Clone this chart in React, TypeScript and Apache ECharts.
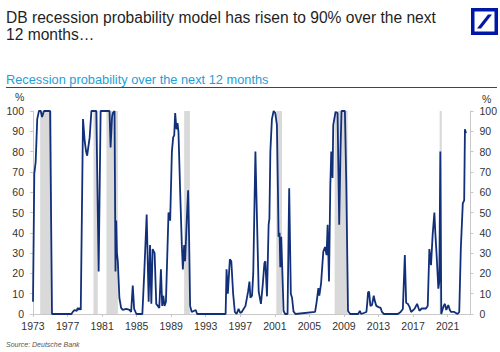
import React, { useEffect, useRef } from "react";
import * as echarts from "echarts";

const titleLines = ["DB recession probability model has risen to 90% over the next", "12 months…"];
const subtitle = "Recession probability over the next 12 months";
const sourceText = "Source: Deutsche Bank";

const xMin = 1973;
const xMax = 2023.65;
const xStep = 4;
const yMin = 0;
const yMax = 100;
const yStep = 10;

const recessions: [number, number][] = [
  [1973.83, 1975.17],
  [1980.0, 1980.5],
  [1981.5, 1982.83],
  [1990.5, 1991.17],
  [2001.17, 2001.83],
  [2007.92, 2009.42],
  [2020.08, 2020.33],
];

const probability: [number, number][] = [
  [1973.0, 6], [1973.15, 69], [1973.31, 75], [1973.49, 96], [1973.69, 100], [1973.9, 100],
  [1974.05, 97], [1974.27, 100], [1974.98, 100], [1975.2, 0], [1977.45, 0], [1977.6, 1],
  [1977.83, 2], [1978.06, 1.5], [1978.18, 3], [1978.29, 2], [1978.41, 3], [1978.53, 2],
  [1978.79, 96], [1978.99, 85], [1979.15, 80], [1979.27, 78], [1979.56, 87], [1979.76, 100],
  [1980.33, 100], [1980.6, 21], [1980.83, 100], [1981.86, 100], [1981.98, 82], [1982.15, 97],
  [1982.24, 99], [1982.44, 100], [1982.55, 21], [1982.63, 46], [1982.72, 30], [1982.82, 26],
  [1982.9, 18], [1983.0, 8], [1983.2, 3], [1983.39, 2], [1983.79, 2.5], [1984.17, 2],
  [1984.36, 1], [1984.55, 14], [1984.71, 2.5], [1984.97, 0], [1985.66, 0], [1985.89, 21],
  [1986.16, 49], [1986.39, 6], [1986.55, 34], [1986.7, 5], [1986.85, 32], [1987.08, 30],
  [1987.27, 5], [1987.45, 4], [1987.62, 3], [1987.81, 22], [1987.96, 4], [1988.08, 9],
  [1988.23, 4], [1988.39, 6], [1988.69, 50], [1988.88, 46], [1989.08, 80], [1989.23, 87],
  [1989.35, 88], [1989.46, 99], [1989.61, 91], [1989.73, 94], [1989.84, 90], [1990.04, 60],
  [1990.23, 34], [1990.35, 22], [1990.5, 34], [1990.61, 26], [1990.81, 47], [1990.96, 61],
  [1991.07, 38], [1991.19, 4], [1991.38, 1], [1991.84, 2], [1992.0, 0], [1995.3, 0],
  [1995.41, 22], [1995.56, 10], [1995.79, 27], [1995.96, 26], [1996.17, 10], [1996.37, 1],
  [1996.57, 0], [1996.8, 2.5], [1997.0, 0.5], [1997.17, 1], [1997.6, 4], [1997.9, 11],
  [1998.06, 16], [1998.17, 8], [1998.36, 9], [1998.5, 20], [1998.75, 80], [1998.93, 47],
  [1999.13, 11], [1999.39, 5], [1999.59, 14], [1999.79, 25], [1999.9, 26], [2000.09, 8.7],
  [2000.28, 44], [2000.37, 47], [2000.48, 80], [2000.66, 96], [2000.86, 100], [2001.05, 99],
  [2001.24, 93], [2001.35, 63], [2001.43, 38], [2001.55, 40], [2001.63, 23], [2001.74, 38],
  [2001.86, 22], [2002.01, 1.5], [2002.2, 0], [2002.47, 0], [2002.66, 62], [2002.85, 10],
  [2002.99, 8], [2003.16, 1.3], [2003.39, 0], [2005.66, 1], [2005.84, 6], [2006.04, 12.8],
  [2006.15, 9], [2006.35, 15], [2006.61, 30.7], [2006.81, 33], [2006.99, 29], [2007.11, 44],
  [2007.27, 16], [2007.42, 63], [2007.53, 80], [2007.68, 67], [2007.76, 93], [2007.88, 96],
  [2008.03, 99.5], [2008.26, 99], [2008.45, 44], [2008.6, 80], [2008.72, 100], [2009.11, 100],
  [2009.27, 65], [2009.47, 1.5], [2009.72, 0], [2010.64, 0], [2010.84, 1.5], [2010.99, 0],
  [2011.6, 1], [2011.71, 6], [2011.79, 10.7], [2011.91, 11], [2012.06, 4], [2012.25, 4.5],
  [2012.45, 9], [2012.6, 6], [2012.75, 4], [2013.02, 3.4], [2013.25, 3], [2013.4, 1],
  [2013.63, 0], [2015.24, 0], [2015.56, 1], [2015.82, 2.5], [2016.05, 29], [2016.2, 5.5],
  [2016.4, 5], [2016.59, 3.5], [2016.78, 1], [2017.17, 2.5], [2017.47, 5], [2017.74, 1.6],
  [2018.01, 2.7], [2018.5, 2.7], [2018.7, 4], [2018.89, 32], [2019.08, 24], [2019.27, 39],
  [2019.47, 50], [2019.58, 40], [2019.73, 29], [2019.93, 12.5], [2020.04, 16], [2020.16, 80],
  [2020.27, 0], [2020.54, 4], [2020.69, 5], [2020.85, 2], [2021.08, 4.4], [2021.26, 2],
  [2021.4, 1], [2021.77, 1], [2022.15, 0], [2022.35, 1], [2022.53, 32], [2022.76, 54.5],
  [2022.92, 56], [2023.01, 91], [2023.13, 89],
];

const FONT = "'Liberation Sans', Arial, sans-serif";

export default function App() {
  const ref = useRef<HTMLDivElement>(null);
  useEffect(() => {
    if (!ref.current) return;
    const chart = echarts.init(ref.current, undefined, { renderer: "svg" });
    const yAxisCommon = {
      type: "value" as const,
      min: yMin,
      max: yMax,
      interval: yStep,
      splitLine: { show: false },
      axisLine: { show: true, lineStyle: { color: "#c8c8c8", width: 1 } },
      axisTick: { show: true, length: 3, lineStyle: { color: "#c8c8c8" } },
      axisLabel: { color: "#333", fontSize: 10.5, fontFamily: FONT, margin: 9 },
    };
    chart.setOption({
      animation: false,
      backgroundColor: "#fff",
      textStyle: { fontFamily: FONT },
      grid: { left: 33, right: 27, top: 111, bottom: 38, containLabel: false },
      xAxis: {
        type: "value",
        min: xMin,
        max: xMax,
        interval: xStep,
        splitLine: { show: false },
        axisLine: { lineStyle: { color: "#c8c8c8" } },
        axisTick: { length: 3, lineStyle: { color: "#c8c8c8" } },
        axisLabel: {
          color: "#333",
          fontSize: 10.5,
          fontFamily: FONT,
          margin: 6,
          showMaxLabel: false,
          formatter: (v: number) => {
            const r = Math.round(v);
            return Math.abs(v - r) < 1e-6 && (r - xMin) % xStep === 0 ? String(r) : "";
          },
        },
      },
      yAxis: [
        { ...yAxisCommon, position: "left" },
        { ...yAxisCommon, position: "right" },
      ],
      series: [
        {
          type: "line",
          data: probability,
          symbol: "none",
          silent: true,
          z: 1,
          lineStyle: { width: 0, opacity: 0 },
          markArea: {
            silent: true,
            itemStyle: { color: "#d9d9d9" },
            data: recessions.map(([a, b]) => [{ xAxis: a }, { xAxis: b }]),
          },
        },
        {
          type: "line",
          data: probability,
          symbol: "none",
          z: 3,
          lineStyle: { color: "#12307a", width: 1.8 },
        },
      ],
      graphic: [
        {
          type: "text",
          style: { text: titleLines[0], x: 6, y: 17, fontSize: 15.6, fontFamily: FONT, fill: "#1f1f1f", verticalAlign: "middle" },
        },
        {
          type: "text",
          style: { text: titleLines[1], x: 6, y: 34, fontSize: 15.6, fontFamily: FONT, fill: "#1f1f1f", verticalAlign: "middle" },
        },
        {
          type: "text",
          style: { text: subtitle, x: 6, y: 79, fontSize: 12.8, fontFamily: FONT, fill: "#239fd8", verticalAlign: "middle" },
        },
        { type: "line", shape: { x1: 6, y1: 87.5, x2: 497, y2: 87.5 }, style: { stroke: "#444", lineWidth: 1 } },
        {
          type: "text",
          style: { text: "%", x: 15, y: 97, fontSize: 10.5, fontFamily: FONT, fill: "#333", verticalAlign: "middle" },
        },
        {
          type: "text",
          style: { text: "%", x: 482, y: 99, fontSize: 10.5, fontFamily: FONT, fill: "#333", verticalAlign: "middle" },
        },
        {
          type: "text",
          style: { text: sourceText, x: 6, y: 344, fontSize: 7, fontStyle: "italic", fontFamily: FONT, fill: "#555", verticalAlign: "middle" },
        },
        { type: "rect", shape: { x: 471, y: 8, width: 27, height: 27 }, style: { fill: "#0018a8" } },
        { type: "rect", shape: { x: 474.5, y: 11.5, width: 20, height: 20 }, style: { fill: "#fff" } },
        {
          type: "polygon",
          shape: { points: [[477, 28.5], [481, 28.5], [492, 14.5], [488, 14.5]] },
          style: { fill: "#0018a8" },
        },
      ],
    });
    return () => chart.dispose();
  }, []);
  return <div ref={ref} style={{ position: "fixed", left: 0, top: 0, width: 500, height: 352 }} />;
}
